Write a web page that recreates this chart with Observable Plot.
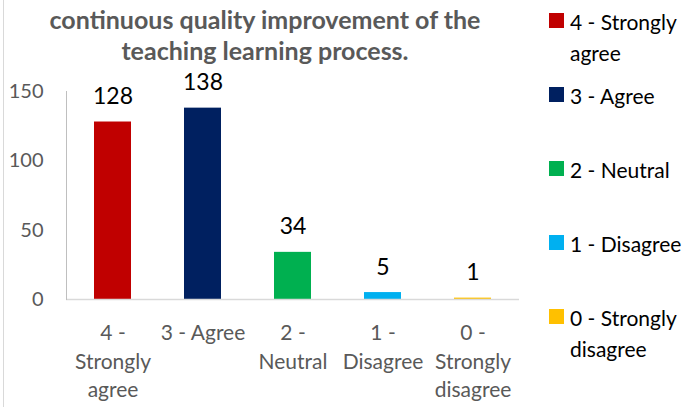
<!DOCTYPE html>
<html>
<head>
<meta charset="utf-8">
<script src="https://cdn.jsdelivr.net/npm/d3@7"></script>
<script src="https://cdn.jsdelivr.net/npm/@observablehq/plot@0.6"></script>
<style>
  html, body { margin: 0; padding: 0; background: #fff; }
  #wrap { position: relative; width: 699px; height: 407px; overflow: hidden; font-family: Lato, "Open Sans", sans-serif; }
  #border { position: absolute; left: 3px; top: 0; width: 1px; height: 407px; background: #d9d9d9; }
  #title { position: absolute; left: 0; top: 4px; width: 530px; text-align: center; font-weight: bold; font-size: 25px; line-height: 31px; color: #595959; }
  #chart { position: absolute; left: 0; top: 60px; }
  #legend { position: absolute; left: 540px; top: 0; }
</style>
</head>
<body>
<div id="wrap">
  <div id="border"></div>
  <div id="title">continuous quality improvement of the<br>teaching learning process.</div>
  <div id="chart"></div>
  <div id="legend"></div>
</div>
<script>
const categories = ["4 - Strongly agree", "3 - Agree", "2 - Neutral", "1 - Disagree", "0 - Strongly disagree"];
const counts = [128, 138, 34, 5, 1];
const colors = ["#C00000", "#002060", "#00B050", "#00B0F0", "#FFC000"];
const xTickLabels = ["4 -\nStrongly\nagree", "3 - Agree", "2 -\nNeutral", "1 -\nDisagree", "0 -\nStrongly\ndisagree"];
const legendLabels = ["4 - Strongly\nagree", "3 - Agree", "2 - Neutral", "1 - Disagree", "0 - Strongly\ndisagree"];
const yTicks = [0, 50, 100, 150];

const data = categories.map((c, i) => ({category: c, count: counts[i], color: colors[i], tick: xTickLabels[i]}));

const chart = Plot.plot({
  width: 545,
  height: 347,
  marginLeft: 66,
  marginRight: 26,
  marginTop: 31,
  marginBottom: 108,
  style: {fontFamily: "Lato, 'Open Sans', sans-serif", background: "transparent"},
  x: {domain: categories, paddingInner: 0.59, paddingOuter: 0.295},
  y: {domain: [0, 150]},
  color: {domain: categories, range: colors},
  marks: [
    Plot.barY(data, {x: "category", y: "count", fill: "category"}),
    Plot.ruleY([0], {stroke: "#d9d9d9", strokeWidth: 1.5}),
    Plot.frame({anchor: "left", stroke: "#bfbfbf"}),
    Plot.axisY({ticks: yTicks, tickSize: 0, tickPadding: 23, fontSize: 20, fill: "#595959", label: null}),
    Plot.axisX({tickSize: 0, tickPadding: 21, fontSize: 21, fill: "#595959", lineHeight: 1.34, label: null,
      tickFormat: (d) => xTickLabels[categories.indexOf(d)]}),
    Plot.text(data, {x: "category", y: "count", text: (d) => String(d.count), lineAnchor: "bottom", dy: -18, fontSize: 23, fill: "#000"})
  ]
});
document.getElementById("chart").appendChild(chart);

// Legend
const leg = d3.select("#legend").append("svg").attr("width", 159).attr("height", 407)
  .style("font-family", "Lato, 'Open Sans', sans-serif");
legendLabels.forEach((lab, i) => {
  const base = 30 + 74 * i;
  const g = leg.append("g");
  g.append("rect").attr("x", 9).attr("y", base - 17).attr("width", 15).attr("height", 15).attr("fill", colors[i]);
  const t = g.append("text").attr("x", 30).attr("y", base).attr("font-size", 21).attr("fill", "#000");
  lab.split("\n").forEach((line, j) => {
    t.append("tspan").attr("x", 30).attr("dy", j === 0 ? 0 : 31).text(line);
  });
});
</script>
</body>
</html>
